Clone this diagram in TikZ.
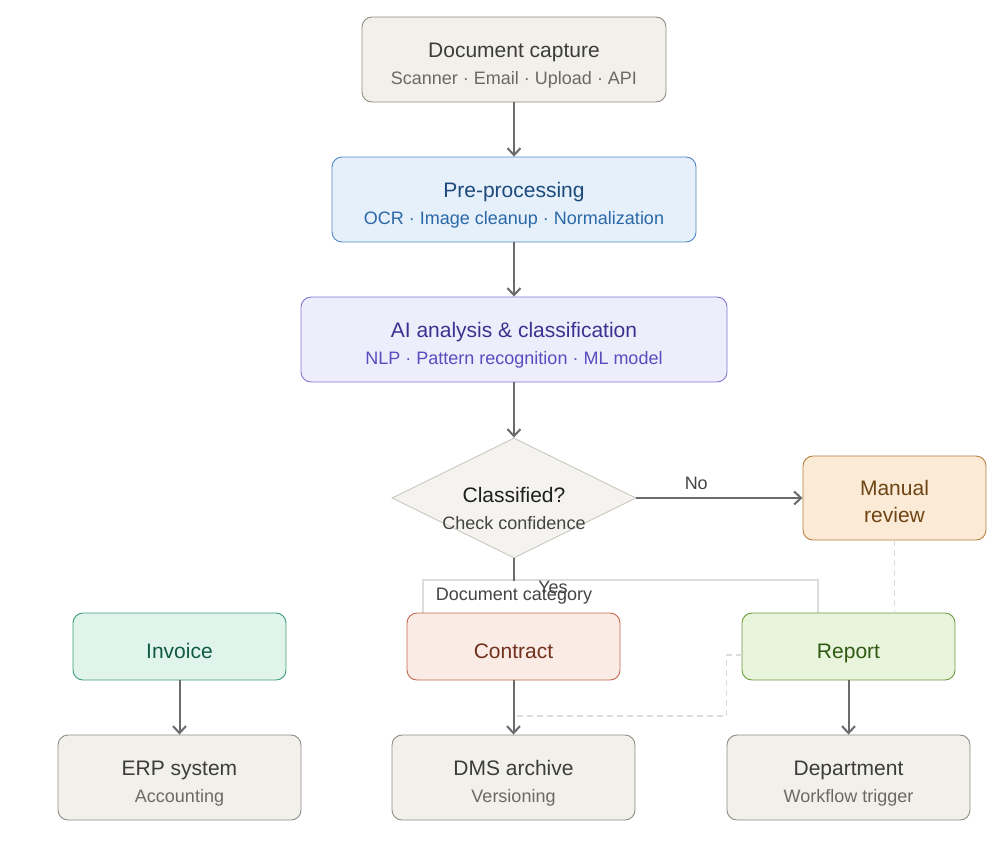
\documentclass[tikz,border=0pt]{standalone}
\usepackage{fontspec}
\setmainfont{Liberation Sans}
\usetikzlibrary{arrows.meta,shapes.geometric}
\definecolor{arrowgray}{HTML}{6B6B6B}
\definecolor{neutfill}{HTML}{F2F0EB}
\definecolor{neutdraw}{HTML}{8E8B82}
\definecolor{neuttitle}{HTML}{3C3C3A}
\definecolor{neutsub}{HTML}{6A6965}
\definecolor{prefill}{HTML}{E6F0FA}
\definecolor{predraw}{HTML}{4F86C6}
\definecolor{pretitle}{HTML}{1C4A7C}
\definecolor{presub}{HTML}{2A68A8}
\definecolor{aifill}{HTML}{EEEDFC}
\definecolor{aidraw}{HTML}{8274D2}
\definecolor{aititle}{HTML}{3B3290}
\definecolor{aisub}{HTML}{5A4BBE}
\definecolor{diafill}{HTML}{F4F3EF}
\definecolor{diadraw}{HTML}{C9C8BF}
\definecolor{mrfill}{HTML}{FBEBD6}
\definecolor{mrdraw}{HTML}{B57E3E}
\definecolor{mrtext}{HTML}{6E4414}
\definecolor{invfill}{HTML}{E1F4EC}
\definecolor{invdraw}{HTML}{3E9C7A}
\definecolor{invtext}{HTML}{0E5A44}
\definecolor{confill}{HTML}{FAEBE5}
\definecolor{condraw}{HTML}{C2664E}
\definecolor{context}{HTML}{72301E}
\definecolor{repfill}{HTML}{E8F4DC}
\definecolor{repdraw}{HTML}{6C9C3E}
\definecolor{reptext}{HTML}{2F5A12}
\definecolor{faint}{HTML}{DCDCDC}
\definecolor{labeltext}{HTML}{444444}
\tikzset{
  box/.style={draw, rounded corners=10pt, line width=0.9pt, align=center, inner sep=0pt},
  big/.style={minimum width=#1, minimum height=85pt},
  small/.style={minimum width=213pt, minimum height=67pt, text height=23pt, text depth=0pt},
  arr/.style={draw=arrowgray, line width=2pt, -{Straight Barb[length=7pt,width=13pt]}},
  faintdash/.style={draw=faint, line width=1.5pt, dash pattern=on 6pt off 4pt},
  t/.style={font=\fontsize{21}{28}\selectfont},
  lab/.style={font=\fontsize{18}{20}\selectfont, text=labeltext},
}
\newcommand{\subt}[2]{\\[-1pt]{\fontsize{18}{28}\selectfont\color{#1}#2}}
\newcommand{\dn}{\rule{0pt}{27pt}}
\begin{document}
\begin{tikzpicture}[x=1pt,y=-1pt]
\useasboundingbox (0,0) rectangle (1000,841);

% group outline behind category nodes
\draw[faint, line width=1.5pt] (423,613) -- (423,580) -- (818,580) -- (818,613);

\node[box, big=304pt, fill=neutfill, draw=neutdraw, t, text=neuttitle] (cap) at (514,59.5)
  {\dn Document capture\subt{neutsub}{Scanner · Email · Upload · API}};
\node[box, big=364pt, fill=prefill, draw=predraw, t, text=pretitle] (pre) at (514,199.5)
  {\dn Pre-processing\subt{presub}{OCR · Image cleanup · Normalization}};
\node[box, big=426pt, fill=aifill, draw=aidraw, t, text=aititle] (ai) at (514,339.5)
  {\dn AI analysis \& classification\subt{aisub}{NLP · Pattern recognition · ML model}};
\node[diamond, draw=diadraw, fill=diafill, line width=0.9pt, minimum width=244pt, minimum height=120pt,
  inner sep=0pt] (dec) at (514,498) {};
\node[align=center, inner sep=0pt, t, text=black!88] (dectext) at (514,508.5)
  {Classified?\subt{labeltext}{Check confidence}};
\node[box, minimum width=183pt, minimum height=84pt, fill=mrfill, draw=mrdraw, t, text=mrtext] (man) at (894.5,498)
  {\rule{0pt}{23pt}Manual\\[-1pt]review};

\node[box, small, fill=invfill, draw=invdraw, t, text=invtext] (inv) at (179.5,646.5) {Invoice};
\node[box, small, fill=confill, draw=condraw, t, text=context] (con) at (513.5,646.5) {Contract};
\node[box, small, fill=repfill, draw=repdraw, t, text=reptext] (rep) at (848.5,646.5) {Report};

\node[box, big=243pt, fill=neutfill, draw=neutdraw, t, text=neuttitle] (erp) at (179.5,777.5)
  {\dn ERP system\subt{neutsub}{Accounting}};
\node[box, big=243pt, fill=neutfill, draw=neutdraw, t, text=neuttitle] (dms) at (513.5,777.5)
  {\dn DMS archive\subt{neutsub}{Versioning}};
\node[box, big=243pt, fill=neutfill, draw=neutdraw, t, text=neuttitle] (dep) at (848.5,777.5)
  {\dn Department\subt{neutsub}{Workflow trigger}};

% connectors
\draw[arr] (cap) -- (pre);
\draw[arr] (pre) -- (ai);
\draw[arr] (ai) -- (dec);
\draw[arr] (dec) -- node[pos=0.36, above, lab, yshift=4pt] {No} (man);
\coordinate (yesend) at (514,581);
\draw[draw=arrowgray, line width=2pt] (dec.south) -- (yesend);
\draw[arr] (inv) -- (erp);
\draw[arr] (con) -- (dms);
\draw[arr] (rep) -- (dep);

% dashed links
\draw[faintdash] (man.south) -- (man.south |- rep.north);
\coordinate (join) at (516,716);
\draw[faintdash] ([yshift=-8.5pt]rep.west) -- ++(-15,0) |- (join);

% labels
\node[fill=white, inner xsep=11pt, inner ysep=0pt, minimum height=31pt, lab] (cat) at (514,596.5) {Document category};
\node[lab] (yes) at (553,587) {Yes};
\end{tikzpicture}
\end{document}
